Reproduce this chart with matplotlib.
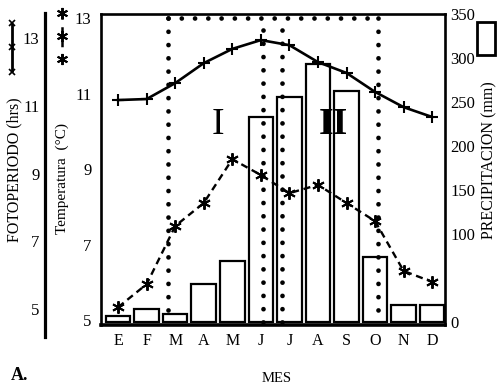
import matplotlib
matplotlib.use("Agg")
import matplotlib.pyplot as plt
from matplotlib.lines import Line2D
from matplotlib.patches import Rectangle

plt.rcParams['font.family'] = ['Liberation Serif', 'DejaVu Serif']

months = ['E', 'F', 'M', 'A', 'M', 'J', 'J', 'A', 'S', 'O', 'N', 'D']
precip = [7, 15, 9, 43, 69, 233, 256, 293, 262, 74, 19, 19]
temperature = [5.34, 5.95, 7.49, 8.10, 9.26, 8.84, 8.36, 8.58, 8.10, 7.62, 6.30, 6.01]
photoperiod = [11.17, 11.20, 11.67, 12.26, 12.68, 12.94, 12.79, 12.29, 11.97, 11.41, 10.96, 10.67]
temp_ticks = [5, 7, 9, 11, 13]
photo_ticks = [5, 7, 9, 11, 13]
precip_ticks = [0, 100, 150, 200, 250, 300, 350]
period_bounds = [1.75, 5.08, 5.74, 9.10]

W, H = 498, 391
fig = plt.figure(figsize=(W / 100, H / 100), dpi=100)


def fx(x):
    return x / W


def fy(y):
    return 1 - y / H


axb = fig.add_axes([fx(101), fy(325), (445 - 101) / W, (325 - 14) / H])
axt = axb.twinx()
axf = axb.twinx()

x = list(range(len(months)))

# Precipitation bars
axb.bar(x, precip, width=0.86, facecolor='white', edgecolor='black', linewidth=1.6)
axb.set_xlim(-0.6, 11.45)
axb.set_ylim(-3.4, 349)
axb.yaxis.tick_right()
axb.set_yticks(precip_ticks)
axb.set_yticklabels([str(t) for t in precip_ticks])
axb.tick_params(axis='y', length=0, pad=4, labelsize=12)
axb.set_xticks(x)
axb.set_xticklabels(months)
axb.tick_params(axis='x', length=0, pad=6, labelsize=11.5)
for side, sp in axb.spines.items():
    sp.set_linewidth(1.9)
axb.spines['bottom'].set_linewidth(2.6)

# Temperature axis (left)
axt.set_ylim(4.868, 13.106)
axt.yaxis.tick_left()
axt.set_yticks(temp_ticks)
axt.set_yticklabels([str(t) for t in temp_ticks])
axt.tick_params(axis='y', length=0, pad=7, labelsize=12, left=True, right=False,
                labelleft=True, labelright=False)
for sp in axt.spines.values():
    sp.set_visible(False)

# dotted period boundaries
dot = dict(color='black', linewidth=3.4, linestyle=(0, (0.01, 2.8)), dash_capstyle='round')
axt.plot([period_bounds[0], period_bounds[3]], [13.0, 13.0], **dot)
axt.plot([period_bounds[0], period_bounds[0]], [13.0, 4.95], **dot)
axt.plot([period_bounds[3], period_bounds[3]], [13.0, 4.95], **dot)
axt.plot([period_bounds[1], period_bounds[1]], [12.68, 4.95], **dot)
axt.plot([period_bounds[2], period_bounds[2]], [12.68, 4.95], **dot)

axt.plot(x, temperature, color='black', linewidth=1.7, linestyle=(0, (3, 2)),
         marker=(6, 2, 0), markersize=9, markeredgewidth=1.4)

axt.text(3.5, 10.17, 'I', fontsize=27, ha='center', va='center')
axt.text(7.53, 10.17, 'II', fontsize=27, ha='center', va='center', fontweight='bold')

# Photoperiod axis (far left)
axf.set_ylim(4.53, 13.71)
axf.yaxis.tick_left()
axf.spines['left'].set_position(('axes', (45 - 101) / 344))
for sp in axf.spines.values():
    sp.set_visible(False)
axf.set_yticks(photo_ticks)
axf.set_yticklabels([str(t) for t in photo_ticks])
axf.tick_params(axis='y', length=0, pad=4, labelsize=12, left=True, right=False,
                labelleft=True, labelright=False)
axf.plot(x, photoperiod, color='black', linewidth=1.9, marker='+', markersize=9,
         markeredgewidth=1.5)

# far-left photoperiod axis line
fig.add_artist(Line2D([fx(45), fx(45)], [fy(13), fy(337)], transform=fig.transFigure,
                      color='black', linewidth=2.3))

# legend symbols
fig.add_artist(Line2D([fx(12), fx(12)], [fy(23), fy(72)], transform=fig.transFigure,
                      color='black', linewidth=2.0, solid_capstyle='butt'))
fig.add_artist(Line2D([fx(12)] * 3, [fy(23), fy(47), fy(72)], transform=fig.transFigure,
                      color='black', marker='x', markersize=5, markeredgewidth=1.2,
                      linestyle='none'))
fig.add_artist(Line2D([fx(62), fx(62)], [fy(13), fy(59)], transform=fig.transFigure,
                      color='black', linewidth=1.8, linestyle=(0, (2.5, 3))))
fig.add_artist(Line2D([fx(62)] * 3, [fy(13), fy(36), fy(59)], transform=fig.transFigure,
                      color='black', marker=(6, 2, 0), markersize=8, markeredgewidth=1.4,
                      linestyle='none'))
fig.add_artist(Rectangle((fx(477), fy(55)), (495 - 477) / W, (55 - 22) / H,
                         transform=fig.transFigure, facecolor='white', edgecolor='black',
                         linewidth=2.0))

# axis titles
fig.text(fx(14), fy(170), 'FOTOPERIODO (hrs)', rotation=90, ha='center', va='center', fontsize=11.5)
fig.text(fx(62), fy(178), 'Temperatura  (°C)', rotation=90, ha='center', va='center', fontsize=11)
fig.text(fx(489), fy(160), 'PRECIPITACION (mm)', rotation=90, ha='center', va='center', fontsize=11.5)
fig.text(fx(277), fy(378), 'MES', ha='center', va='center', fontsize=10.5)
fig.text(fx(20), fy(375), 'A.', ha='center', va='center', fontsize=13, fontweight='bold')

fig.savefig('out.png', dpi=100)
